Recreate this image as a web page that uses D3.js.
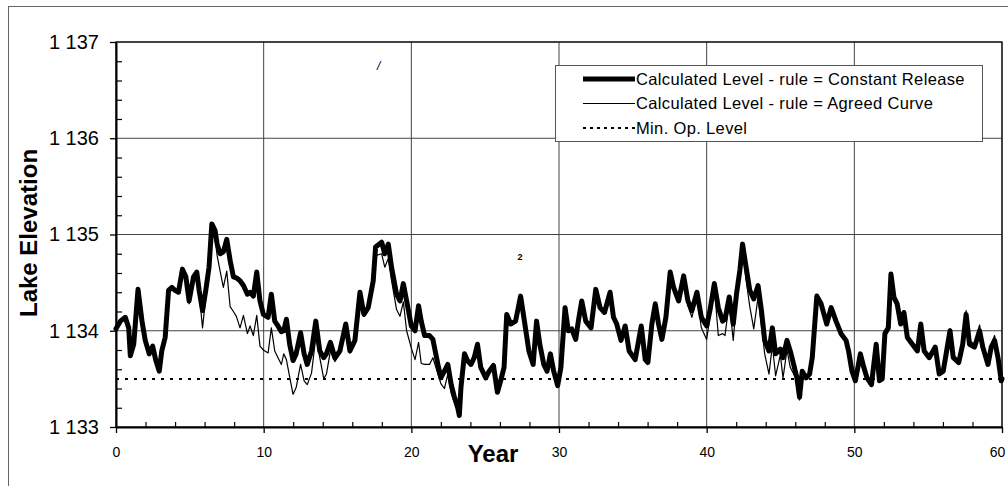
<!DOCTYPE html>
<html>
<head>
<meta charset="utf-8">
<script src="https://cdn.jsdelivr.net/npm/d3@7"></script>
<style>
body { margin: 0; background: #fff; }
svg { display: block; font-family: Arial, "Liberation Sans", Helvetica, sans-serif; }
</style>
</head>
<body>
<svg id="chart" width="1008" height="486"></svg>
<script>
// values
const years = [0, 0.3, 0.63, 0.86, 0.97, 1.2, 1.49, 1.76, 1.98, 2.25, 2.48, 2.7, 2.93, 3.1, 3.33, 3.56, 3.78, 4.0, 4.23, 4.5,
  4.73, 4.95, 5.25, 5.47, 5.63, 5.86, 6.08, 6.3, 6.49, 6.71, 6.85, 7.05, 7.27, 7.5, 7.73, 7.95, 8.15, 8.4, 8.63, 8.9,
  9.08, 9.3, 9.53, 9.75, 9.98, 10.3, 10.52, 10.75, 10.97, 11.2, 11.36, 11.54, 11.76, 11.99, 12.2, 12.5, 12.74, 12.95, 13.24, 13.53,
  13.8, 14.07, 14.25, 14.52, 14.82, 15.16, 15.56, 15.84, 16.18, 16.52, 16.79, 17.08, 17.42, 17.58, 17.99, 18.2, 18.44, 18.66, 19.0, 19.23,
  19.46, 19.68, 20.0, 20.25, 20.49, 20.67, 20.9, 21.23, 21.46, 21.8, 22.0, 22.24, 22.47, 22.7, 22.9, 23.14, 23.25, 23.36, 23.6, 23.8,
  24.04, 24.26, 24.48, 24.7, 25.04, 25.27, 25.56, 25.83, 26.05, 26.28, 26.46, 26.73, 27.06, 27.4, 27.62, 27.96, 28.25, 28.48, 28.7, 28.97,
  29.19, 29.42, 29.64, 29.91, 30.13, 30.41, 30.63, 30.86, 31.13, 31.31, 31.54, 31.81, 32.17, 32.49, 32.78, 33.08, 33.46, 33.69, 33.91, 34.2,
  34.48, 34.75, 35.16, 35.57, 35.84, 36.02, 36.29, 36.52, 36.74, 36.97, 37.24, 37.53, 37.76, 38.1, 38.44, 38.73, 39.0, 39.34, 39.64, 40.0,
  40.22, 40.52, 40.79, 41.08, 41.24, 41.53, 41.8, 42.02, 42.25, 42.43, 42.65, 42.92, 43.19, 43.48, 43.71, 43.93, 44.22, 44.45, 44.67, 44.99,
  45.17, 45.44, 45.66, 45.89, 46.11, 46.29, 46.47, 46.74, 46.97, 47.15, 47.46, 47.75, 48.13, 48.43, 48.76, 49.1, 49.44, 49.61, 49.84, 50.07,
  50.41, 50.64, 50.86, 51.16, 51.48, 51.7, 51.89, 52.07, 52.3, 52.48, 52.68, 52.9, 53.14, 53.36, 53.59, 53.93, 54.27, 54.5, 54.73, 55.07,
  55.48, 55.75, 56.02, 56.25, 56.48, 56.7, 57.07, 57.34, 57.57, 57.8, 58.14, 58.48, 58.7, 59.05, 59.27, 59.5, 59.73, 59.95, 60.0];

const constantRelease = [1134.02, 1134.10, 1134.14, 1134.03, 1133.74, 1133.86, 1134.43, 1134.10, 1133.90, 1133.76, 1133.84, 1133.69, 1133.58, 1133.79, 1133.93, 1134.42, 1134.45, 1134.42, 1134.40, 1134.64,
  1134.56, 1134.31, 1134.56, 1134.61, 1134.42, 1134.21, 1134.42, 1134.66, 1135.11, 1135.04, 1134.90, 1134.80, 1134.82, 1134.95, 1134.73, 1134.56, 1134.55, 1134.52, 1134.47, 1134.38,
  1134.40, 1134.36, 1134.61, 1134.31, 1134.17, 1134.14, 1134.38, 1134.10, 1134.05, 1133.99, 1134.00, 1134.12, 1133.86, 1133.69, 1133.76, 1133.98, 1133.76, 1133.65, 1133.79, 1134.10,
  1133.79, 1133.72, 1133.76, 1133.88, 1133.72, 1133.79, 1134.07, 1133.79, 1133.90, 1134.40, 1134.17, 1134.24, 1134.52, 1134.87, 1134.92, 1134.80, 1134.90, 1134.66, 1134.38, 1134.31,
  1134.49, 1134.31, 1134.05, 1134.00, 1134.26, 1134.10, 1133.95, 1133.95, 1133.91, 1133.65, 1133.51, 1133.58, 1133.65, 1133.44, 1133.32, 1133.20, 1133.12, 1133.41, 1133.76, 1133.69,
  1133.65, 1133.72, 1133.86, 1133.62, 1133.51, 1133.58, 1133.64, 1133.36, 1133.48, 1133.62, 1134.17, 1134.07, 1134.10, 1134.36, 1134.14, 1133.79, 1133.65, 1134.10, 1133.86, 1133.65,
  1133.58, 1133.76, 1133.58, 1133.43, 1133.62, 1134.24, 1134.00, 1134.02, 1133.91, 1134.10, 1134.31, 1134.10, 1134.03, 1134.43, 1134.24, 1134.19, 1134.40, 1134.14, 1134.07, 1133.90,
  1134.05, 1133.79, 1133.70, 1134.05, 1133.70, 1133.67, 1134.07, 1134.28, 1134.07, 1133.91, 1134.14, 1134.61, 1134.45, 1134.31, 1134.57, 1134.31, 1134.21, 1134.40, 1134.14, 1134.05,
  1134.21, 1134.49, 1134.24, 1134.10, 1134.12, 1134.35, 1134.07, 1134.38, 1134.63, 1134.90, 1134.68, 1134.42, 1134.33, 1134.47, 1134.21, 1133.90, 1133.79, 1134.03, 1133.76, 1133.81,
  1133.72, 1133.90, 1133.79, 1133.65, 1133.51, 1133.31, 1133.58, 1133.51, 1133.55, 1133.72, 1134.36, 1134.28, 1134.07, 1134.24, 1134.10, 1133.97, 1133.90, 1133.79, 1133.58, 1133.48,
  1133.76, 1133.62, 1133.51, 1133.44, 1133.86, 1133.48, 1133.50, 1133.97, 1134.03, 1134.59, 1134.35, 1134.28, 1134.07, 1134.19, 1133.93, 1133.86, 1133.79, 1134.07, 1133.79, 1133.72,
  1133.83, 1133.55, 1133.58, 1133.79, 1134.00, 1133.72, 1133.67, 1133.86, 1134.17, 1133.86, 1133.83, 1134.00, 1133.83, 1133.65, 1133.83, 1133.90, 1133.72, 1133.48, 1133.50];

const agreedCurve = [1134.02, 1134.10, 1134.14, 1134.03, 1133.74, 1133.86, 1134.43, 1134.10, 1133.90, 1133.76, 1133.84, 1133.69, 1133.58, 1133.79, 1133.93, 1134.42, 1134.45, 1134.42, 1134.40, 1134.64,
  1134.56, 1134.28, 1134.56, 1134.61, 1134.40, 1134.03, 1134.35, 1134.62, 1135.08, 1134.95, 1134.78, 1134.62, 1134.45, 1134.62, 1134.25, 1134.20, 1134.15, 1134.03, 1134.16, 1133.97,
  1134.05, 1133.95, 1134.16, 1133.84, 1133.80, 1133.77, 1134.03, 1133.79, 1133.72, 1133.65, 1133.76, 1133.70, 1133.52, 1133.34, 1133.41, 1133.65, 1133.48, 1133.44, 1133.56, 1133.93,
  1133.72, 1133.50, 1133.55, 1133.79, 1133.68, 1133.76, 1134.05, 1133.77, 1133.88, 1134.38, 1134.15, 1134.22, 1134.45, 1134.78, 1134.80, 1134.66, 1134.75, 1134.52, 1134.22, 1134.15,
  1134.30, 1134.00, 1133.82, 1133.70, 1133.88, 1133.66, 1133.65, 1133.65, 1133.72, 1133.55, 1133.45, 1133.40, 1133.55, 1133.35, 1133.26, 1133.18, 1133.10, 1133.38, 1133.74, 1133.67,
  1133.64, 1133.71, 1133.85, 1133.61, 1133.50, 1133.58, 1133.64, 1133.36, 1133.48, 1133.62, 1134.15, 1134.06, 1134.10, 1134.34, 1134.13, 1133.78, 1133.65, 1134.08, 1133.85, 1133.64,
  1133.58, 1133.75, 1133.57, 1133.42, 1133.62, 1134.22, 1134.00, 1134.02, 1133.90, 1134.10, 1134.30, 1134.08, 1134.02, 1134.42, 1134.24, 1134.19, 1134.38, 1134.13, 1134.06, 1133.88,
  1134.04, 1133.78, 1133.69, 1134.04, 1133.69, 1133.66, 1134.06, 1134.27, 1134.06, 1133.90, 1134.13, 1134.60, 1134.44, 1134.30, 1134.55, 1134.26, 1134.14, 1134.36, 1134.03, 1133.91,
  1134.14, 1134.45, 1133.95, 1133.97, 1133.95, 1134.30, 1133.90, 1134.30, 1134.55, 1134.85, 1134.55, 1134.25, 1134.02, 1134.35, 1134.05, 1133.76, 1133.55, 1133.85, 1133.53, 1133.75,
  1133.51, 1133.80, 1133.62, 1133.55, 1133.50, 1133.28, 1133.56, 1133.50, 1133.54, 1133.71, 1134.34, 1134.26, 1134.06, 1134.22, 1134.09, 1133.96, 1133.88, 1133.78, 1133.56, 1133.47,
  1133.75, 1133.61, 1133.50, 1133.44, 1133.84, 1133.48, 1133.50, 1133.96, 1134.02, 1134.57, 1134.33, 1134.26, 1134.06, 1134.18, 1133.92, 1133.85, 1133.78, 1134.06, 1133.78, 1133.71,
  1133.82, 1133.55, 1133.58, 1133.80, 1134.02, 1133.74, 1133.70, 1133.88, 1134.21, 1133.90, 1133.86, 1134.06, 1133.87, 1133.68, 1133.86, 1133.95, 1133.76, 1133.50, 1133.52];

const minOpLevel = 1133.5;

const xTicks = [0, 10, 20, 30, 40, 50, 60];
const xTickLabels = ['0', '10', '20', '30', '40', '50', '60'];
const yTicks = [1133, 1134, 1135, 1136, 1137];
const yTickLabels = ['1 133', '1 134', '1 135', '1 136', '1 137'];

const legendLabels = [
  'Calculated Level - rule = Constant Release',
  'Calculated Level - rule = Agreed Curve',
  'Min. Op. Level'
];

const svg = d3.select('#chart');
const plotLeft = 116;
const plotRight = 1002;
const plotTop = 42;
const plotBottom = 427;

const x = d3.scaleLinear().domain([0, 60]).range([plotLeft, plotRight]);
const y = d3.scaleLinear().domain([1133, 1137]).range([plotBottom, plotTop]);

// outer frame of the figure
svg.append('rect')
  .attr('x', 8.5).attr('y', 6.5)
  .attr('width', 1004).attr('height', 490)
  .attr('fill', 'none')
  .attr('stroke', '#666')
  .attr('stroke-width', 1);

// grid
svg.append('g')
  .selectAll('line')
  .data(xTicks.slice(1))
  .enter().append('line')
  .attr('x1', d => x(d)).attr('x2', d => x(d))
  .attr('y1', plotTop).attr('y2', plotBottom)
  .attr('stroke', '#444')
  .attr('stroke-width', 1);

svg.append('g')
  .selectAll('line')
  .data(yTicks.slice(1))
  .enter().append('line')
  .attr('x1', plotLeft).attr('x2', plotRight)
  .attr('y1', d => y(d)).attr('y2', d => y(d))
  .attr('stroke', '#444')
  .attr('stroke-width', 1);

svg.append('rect')
  .attr('x', plotLeft).attr('y', plotTop)
  .attr('width', plotRight - plotLeft).attr('height', plotBottom - plotTop)
  .attr('fill', 'none')
  .attr('stroke', '#111')
  .attr('stroke-width', 1.3);

// minimum operating level
svg.append('line')
  .attr('x1', x(0)).attr('x2', x(60))
  .attr('y1', y(minOpLevel)).attr('y2', y(minOpLevel))
  .attr('stroke', '#000')
  .attr('stroke-width', 2)
  .attr('stroke-dasharray', '3,6');

const line = d3.line()
  .x((d, i) => x(years[i]))
  .y(d => y(d));

svg.append('path')
  .datum(agreedCurve)
  .attr('d', line)
  .attr('fill', 'none')
  .attr('stroke', '#000')
  .attr('stroke-width', 1.2)
  .attr('stroke-linejoin', 'round');

svg.append('path')
  .datum(constantRelease)
  .attr('d', line)
  .attr('fill', 'none')
  .attr('stroke', '#000')
  .attr('stroke-width', 5)
  .attr('stroke-linejoin', 'round')
  .attr('stroke-linecap', 'round');

// axes
const xMinor = d3.range(2, 60, 2).filter(d => d % 10 !== 0);
const yMinor = d3.range(1133.2, 1137, 0.2).filter(d => Math.abs(d - Math.round(d)) > 0.01);

svg.append('g')
  .attr('transform', `translate(0,${plotBottom})`)
  .call(d3.axisBottom(x).tickValues(xMinor).tickSize(-5).tickFormat(''))
  .call(g => g.select('.domain').remove())
  .selectAll('line').attr('stroke', '#000').attr('stroke-width', 1.2);

svg.append('g')
  .attr('transform', `translate(${plotLeft},0)`)
  .call(d3.axisLeft(y).tickValues(yMinor).tickSize(-6).tickFormat(''))
  .call(g => g.select('.domain').remove())
  .selectAll('line').attr('stroke', '#000').attr('stroke-width', 1.2);

const xAxis = svg.append('g')
  .attr('transform', `translate(0,${plotBottom})`)
  .call(d3.axisBottom(x).tickValues(xTicks).tickSize(6).tickPadding(14)
    .tickFormat((d, i) => xTickLabels[i]).tickSizeOuter(0));
xAxis.select('.domain').attr('stroke', '#000').attr('stroke-width', 2);
xAxis.selectAll('line').attr('stroke', '#000').attr('stroke-width', 1.3);
xAxis.selectAll('text')
  .attr('fill', '#000')
  .style('font-size', '14px')
  .style('font-family', 'Arial, "Liberation Sans", Helvetica, sans-serif');
// the last label sits on the page edge; nudge it inside
xAxis.selectAll('.tick').filter(d => d === 60).select('text').attr('dx', -5);

const yAxis = svg.append('g')
  .attr('transform', `translate(${plotLeft},0)`)
  .call(d3.axisLeft(y).tickValues(yTicks).tickSize(6).tickPadding(11)
    .tickFormat((d, i) => yTickLabels[i]).tickSizeOuter(0));
yAxis.select('.domain').attr('stroke', '#000').attr('stroke-width', 2);
yAxis.selectAll('line').attr('stroke', '#000').attr('stroke-width', 1.3);
yAxis.selectAll('text')
  .attr('fill', '#000')
  .style('font-size', '20px')
  .style('font-family', 'Arial, "Liberation Sans", Helvetica, sans-serif');

// axis titles
svg.append('text')
  .attr('x', 493).attr('y', 462)
  .attr('text-anchor', 'middle')
  .style('font-size', '24px')
  .style('font-weight', 'bold')
  .text('Year');

svg.append('text')
  .attr('transform', 'translate(37,233) rotate(-90)')
  .attr('text-anchor', 'middle')
  .style('font-size', '24px')
  .style('font-weight', 'bold')
  .text('Lake Elevation');

// stray marks of the scan
svg.append('text')
  .attr('x', 377).attr('y', 70)
  .style('font-size', '12px')
  .style('font-style', 'italic')
  .text('/');

svg.append('text')
  .attr('x', 520).attr('y', 260)
  .attr('text-anchor', 'middle')
  .style('font-size', '9px')
  .style('font-weight', 'bold')
  .text('2');

// legend
const legend = svg.append('g');
legend.append('rect')
  .attr('x', 555.5).attr('y', 65.5)
  .attr('width', 427).attr('height', 76)
  .attr('fill', '#fff')
  .attr('stroke', '#555')
  .attr('stroke-width', 1);

const legendStyles = [
  { width: 5, dash: null },
  { width: 1.2, dash: null },
  { width: 2, dash: '3,4' }
];

legendLabels.forEach((label, i) => {
  const yy = 79 + i * 24.5;
  legend.append('line')
    .attr('x1', 583).attr('x2', 635)
    .attr('y1', yy).attr('y2', yy)
    .attr('stroke', '#000')
    .attr('stroke-width', legendStyles[i].width)
    .attr('stroke-dasharray', legendStyles[i].dash);
  legend.append('text')
    .attr('x', 636).attr('y', yy + 5.5)
    .style('font-size', '16.5px')
    .style('letter-spacing', '0.35px')
    .text(label);
});
</script>
</body>
</html>
